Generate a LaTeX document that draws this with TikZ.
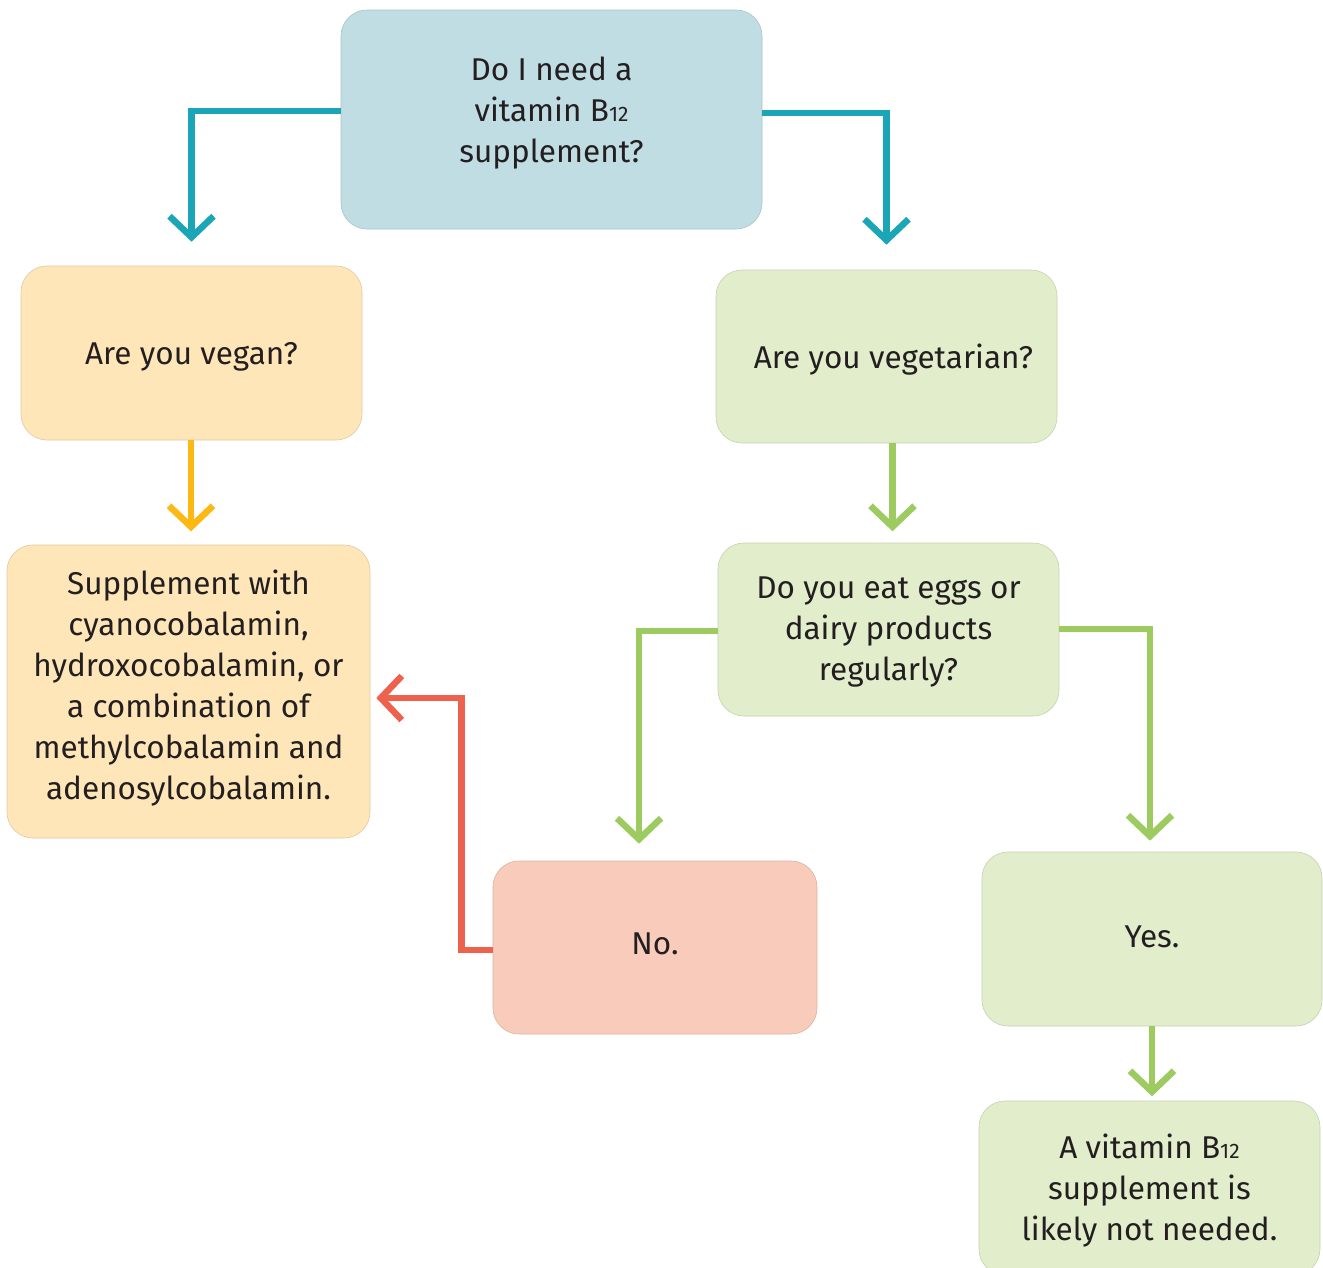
\documentclass[tikz,border=0pt]{standalone}
\usepackage{fontspec}
\setmainfont{Fira Sans}
\usetikzlibrary{arrows.meta}
\definecolor{txt}{HTML}{231F20}
\definecolor{bluefill}{HTML}{C1DDE4}
\definecolor{tealar}{HTML}{1AA6B7}
\definecolor{orfill}{HTML}{FEE6B8}
\definecolor{orar}{HTML}{FDB913}
\definecolor{grfill}{HTML}{E2EDCB}
\definecolor{grar}{HTML}{9DCB60}
\definecolor{pkfill}{HTML}{F8CBBB}
\definecolor{redar}{HTML}{EE624D}
\newcommand{\Bsub}{B{\fontsize{21}{21}\selectfont 12}}
\tikzset{
  box/.style={rounded corners=26pt, draw=#1!88!black, line width=0.6pt, fill=#1,
    inner sep=0pt},
  lbl/.style={text=txt, align=center, inner sep=0pt,
    font=\fontsize{31.5}{41}\selectfont},
  flow/.style={line width=6.5pt, draw=#1, -{Straight Barb[length=21pt,width=44pt]}},
}
\begin{document}
\begin{tikzpicture}[x=1pt,y=-1pt]
\clip (0,0) rectangle (1323,1267);
\fill[white] (0,0) rectangle (1323,1267);
\node[box=bluefill, minimum width=421pt, minimum height=219pt] (top) at (551.5,119.5) {};
\node[box=orfill, minimum width=341pt, minimum height=174pt] (vegan) at (191.5,353) {};
\node[box=orfill, minimum width=363pt, minimum height=293pt] (supp) at (188.5,691.5) {};
\node[box=grfill, minimum width=341pt, minimum height=173pt] (veg) at (886.5,356.5) {};
\node[box=grfill, minimum width=341pt, minimum height=173pt] (eggs) at (888.5,629.5) {};
\node[box=pkfill, minimum width=324pt, minimum height=173pt] (no) at (655,947.5) {};
\node[box=grfill, minimum width=340pt, minimum height=174pt] (yes) at (1152,939) {};
\node[box=grfill, minimum width=341pt, minimum height=174pt] (final) at (1149.5,1188) {};
\node[lbl] (topT) at ([yshift=6.5pt]top.center) {Do I need a\\vitamin \Bsub\\supplement?};
\node[lbl] (veganT) at ([yshift=-3.5pt]vegan.center) {Are you vegan?};
\node[lbl] (suppT) at ([yshift=3.5pt]supp.center)
  {Supplement with\\cyanocobalamin,\\hydroxocobalamin, or\\a combination of\\methylcobalamin and\\adenosylcobalamin.};
\node[lbl] (vegT) at ([xshift=7pt,yshift=-3.5pt]veg.center) {Are you vegetarian?};
\node[lbl] (eggsT) at ([yshift=-2pt]eggs.center) {Do you eat eggs or\\dairy products\\regularly?};
\node[lbl] (noT) at ([yshift=3.5pt]no.center) {No.};
\node[lbl] (yesT) at ([yshift=2pt]yes.center) {Yes.};
\node[lbl] (finalT) at ([yshift=-3pt]final.center) {A vitamin \Bsub\\supplement is\\likely not needed.};
\draw[flow=tealar] ([yshift=8.5pt]top.west) -| ([yshift=24pt]vegan.north);
\draw[flow=tealar] ([yshift=6.5pt]top.east) -| ([yshift=25pt]veg.north);
\draw[flow=orar] ([xshift=-0.5pt]vegan.south) -- ++(0,91);
\draw[flow=grar] ([xshift=6pt]veg.south) -- ++(0,88);
\draw[flow=grar] ([yshift=-1.5pt]eggs.west) -| ([xshift=-16pt,yshift=17pt]no.north);
\draw[flow=grar] ([yshift=0.5pt]eggs.east) -| ([xshift=-2pt,yshift=11pt]yes.north);
\draw[flow=grar] (yes.south) -- ++(0,70);
\draw[flow=redar] ([yshift=-2.5pt]no.west) -- ++(-31,0) |- ([xshift=6pt,yshift=-6.5pt]supp.east);
\end{tikzpicture}
\end{document}
